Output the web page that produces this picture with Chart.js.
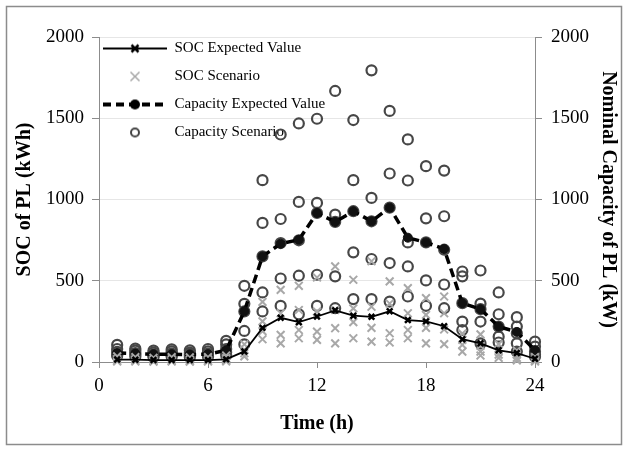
<!DOCTYPE html>
<html>
<head>
<meta charset="utf-8">
<script src="https://cdn.jsdelivr.net/npm/chart.js@4.4.1/dist/chart.umd.min.js"></script>
<style>
    html, body { margin: 0; padding: 0; background: #fff; }
</style>
</head>
<body>
<canvas id="grafico" width="623" height="449"></canvas>
<script>
const horas = [1, 2, 3, 4, 5, 6, 7, 8, 9, 10, 11, 12, 13, 14, 15, 16, 17, 18, 19, 20, 21, 22, 23, 24]

// valores esperados
const socEsperado = [15, 14, 12, 12, 12, 12, 16, 65, 210, 272, 245, 280, 318, 285, 278, 312, 258, 250, 220, 140, 115, 72, 55, 20]
const capEsperado = [55, 52, 48, 48, 46, 48, 72, 312, 650, 728, 752, 917, 862, 928, 866, 950, 765, 736, 695, 362, 325, 218, 185, 72]

// cenarios de SOC
const socCen1 = [35, 30, 25, 30, 28, 30, 40, 109, 370, 444, 469, 520, 588, 506, 620, 496, 455, 393, 403, 175, 170, 110, 70, 30]
const socCen2 = [18, 16, 14, 16, 14, 16, 22, 75, 250, 300, 320, 310, 320, 330, 340, 360, 300, 290, 300, 136, 100, 75, 45, 15]
const socCen3 = [8, 8, 6, 7, 6, 7, 10, 54, 190, 167, 197, 187, 208, 245, 210, 177, 197, 210, 200, 105, 64, 45, 25, 8]
const socCen4 = [3, 3, 2, 3, 2, 3, 4, 35, 140, 115, 146, 136, 115, 146, 125, 120, 146, 115, 110, 64, 40, 25, 10, 3]

// cenarios de capacidade
const capCen1 = [105, 82, 70, 78, 72, 80, 130, 469, 1119, 1400, 1468, 1497, 1668, 1489, 1795, 1545, 1370, 1205, 1178, 557, 563, 428, 276, 125]
const capCen2 = [80, 70, 58, 65, 58, 66, 108, 358, 856, 880, 985, 979, 907, 1119, 1010, 1160, 1117, 884, 897, 527, 359, 294, 218, 95]
const capCen3 = [62, 55, 45, 52, 48, 52, 80, 311, 650, 732, 749, 917, 862, 928, 866, 950, 736, 736, 691, 362, 325, 218, 177, 64]
const capCen4 = [45, 45, 38, 42, 40, 45, 60, 191, 428, 514, 531, 537, 527, 675, 634, 609, 588, 502, 477, 249, 249, 156, 115, 45]
const capCen5 = [38, 33, 30, 33, 30, 33, 42, 109, 311, 345, 294, 345, 331, 387, 387, 372, 403, 346, 331, 197, 115, 120, 64, 33]

const ticksX = [0, 6, 12, 18, 24]
const ticksY = [0, 500, 1000, 1500, 2000]

function pontos(listas) {
    return listas.flatMap(lista => lista.map((v, i) => ({x: horas[i], y: v})))
}

function icone(desenho) {
    const c = document.createElement('canvas')
    c.width = 64
    c.height = 16
    const g = c.getContext('2d')
    desenho(g)
    return c
}

function xis(g, cx, cy, r, cor, lw) {
    g.strokeStyle = cor
    g.lineWidth = lw
    g.beginPath()
    g.moveTo(cx - r, cy - r); g.lineTo(cx + r, cy + r)
    g.moveTo(cx + r, cy - r); g.lineTo(cx - r, cy + r)
    g.stroke()
}

const icones = [
    icone(g => {
        g.strokeStyle = '#000'
        g.lineWidth = 2
        g.beginPath(); g.moveTo(0, 8); g.lineTo(64, 8); g.stroke()
        xis(g, 32, 8, 3.5, '#000', 2.5)
    }),
    icone(g => xis(g, 32, 8, 4.5, '#a8a8a8', 1.5)),
    icone(g => {
        g.strokeStyle = '#000'
        g.lineWidth = 4
        g.setLineDash([8, 5])
        g.beginPath(); g.moveTo(0, 8); g.lineTo(64, 8); g.stroke()
        g.fillStyle = '#000'
        g.beginPath(); g.arc(32, 8, 5, 0, Math.PI * 2); g.fill()
    }),
    icone(g => {
        g.strokeStyle = '#444'
        g.lineWidth = 2
        g.beginPath(); g.arc(32, 8, 4, 0, Math.PI * 2); g.stroke()
    })
]

const moldura = {
    id: 'moldura',
    beforeDraw(chart) {
        const ctx = chart.ctx
        ctx.save()
        ctx.fillStyle = '#fff'
        ctx.fillRect(0, 0, chart.width, chart.height)
        ctx.strokeStyle = '#8c8c8c'
        ctx.lineWidth = 1.5
        ctx.strokeRect(6.5, 6.5, 615, 438)
        ctx.restore()
    },
    afterLayout(chart) {
        // legenda encostada no canto do grafico
        const leg = chart.legend
        const area = chart.chartArea
        leg.left = area.left - 9
        leg.top = area.top - 9
        leg.bottom = area.bottom
    }
}

Chart.defaults.font.family = "'Liberation Serif', 'Times New Roman', serif"
Chart.defaults.color = '#000'

const fonteTick = {size: 19}
const fonteTitulo = {size: 20, weight: 'bold'}
const semVirgula = v => String(v)

new Chart(document.getElementById('grafico').getContext('2d'), {
    type: 'scatter',
    data: {
        datasets: [{
            label: 'SOC Expected Value',
            data: pontos([socEsperado]),
            showLine: true,
            borderColor: '#000',
            borderWidth: 1.8,
            pointStyle: 'crossRot',
            pointRadius: 4,
            pointBorderWidth: 2.5,
            pointBorderColor: '#000',
            yAxisID: 'y',
            order: 0,
            clip: false
        }, {
            label: 'SOC Scenario',
            data: pontos([socCen1, socCen2, socCen3, socCen4]),
            pointStyle: 'crossRot',
            pointRadius: 5.5,
            pointBorderWidth: 2,
            pointBorderColor: '#a8a8a8',
            borderColor: '#a8a8a8',
            yAxisID: 'y',
            order: 1,
            clip: false
        }, {
            label: 'Capacity Expected Value',
            data: pontos([capEsperado]),
            showLine: true,
            borderColor: '#000',
            borderWidth: 3.5,
            borderDash: [9, 5],
            pointStyle: 'circle',
            pointRadius: 4.5,
            pointBackgroundColor: '#111',
            pointBorderColor: '#111',
            pointBorderWidth: 1,
            yAxisID: 'y1',
            order: 2,
            clip: false
        }, {
            label: 'Capacity Scenario',
            data: pontos([capCen1, capCen2, capCen3, capCen4, capCen5]),
            pointStyle: 'circle',
            pointRadius: 5,
            pointBorderWidth: 2.2,
            pointBorderColor: '#474747',
            pointBackgroundColor: 'rgba(0,0,0,0)',
            borderColor: '#474747',
            yAxisID: 'y1',
            order: 3,
            clip: false
        }]
    },
    options: {
        responsive: false,
        animation: false,
        layout: {padding: {left: 8, top: 37, right: 0, bottom: 8}},
        plugins: {
            tooltip: {enabled: false},
            legend: {
                position: 'chartArea',
                align: 'start',
                labels: {
                    usePointStyle: true,
                    pointStyleWidth: 64,
                    padding: 13,
                    color: '#000',
                    font: {size: 15},
                    generateLabels(chart) {
                        const itens = Chart.defaults.plugins.legend.labels.generateLabels(chart)
                        itens.forEach(it => { it.pointStyle = icones[it.datasetIndex] })
                        return itens
                    }
                }
            }
        },
        scales: {
            x: {
                type: 'linear',
                min: 0,
                max: 24,
                afterBuildTicks: s => { s.ticks = ticksX.map(v => ({value: v})) },
                ticks: {font: fonteTick, color: '#000', padding: 7, callback: semVirgula},
                grid: {drawOnChartArea: false, tickLength: 6, tickColor: '#8c8c8c'},
                border: {color: '#8c8c8c'},
                title: {display: true, text: 'Time (h)', font: fonteTitulo, color: '#000', padding: {top: 0, bottom: 5}},
                afterFit: s => { s.height = 79 }
            },
            y: {
                position: 'left',
                min: 0,
                max: 2000,
                afterBuildTicks: s => { s.ticks = ticksY.map(v => ({value: v})) },
                ticks: {font: fonteTick, color: '#000', padding: 8, callback: semVirgula},
                grid: {color: '#e6e6e6', tickColor: '#8c8c8c', tickLength: 7},
                border: {color: '#8c8c8c'},
                title: {display: true, text: 'SOC of PL (kWh)', font: fonteTitulo, color: '#000', padding: {top: 5, bottom: 0}},
                afterFit: s => { s.width = 91 }
            },
            y1: {
                position: 'right',
                min: 0,
                max: 2000,
                afterBuildTicks: s => { s.ticks = ticksY.map(v => ({value: v})) },
                ticks: {font: fonteTick, color: '#000', padding: 9, callback: semVirgula},
                grid: {drawOnChartArea: false, tickColor: '#8c8c8c', tickLength: 7},
                border: {color: '#8c8c8c'},
                title: {display: true, text: 'Nominal Capacity of PL (kW)', font: fonteTitulo, color: '#000', padding: {top: 3, bottom: 0}},
                afterFit: s => { s.width = 88 }
            }
        }
    },
    plugins: [moldura]
})
</script>
</body>
</html>
